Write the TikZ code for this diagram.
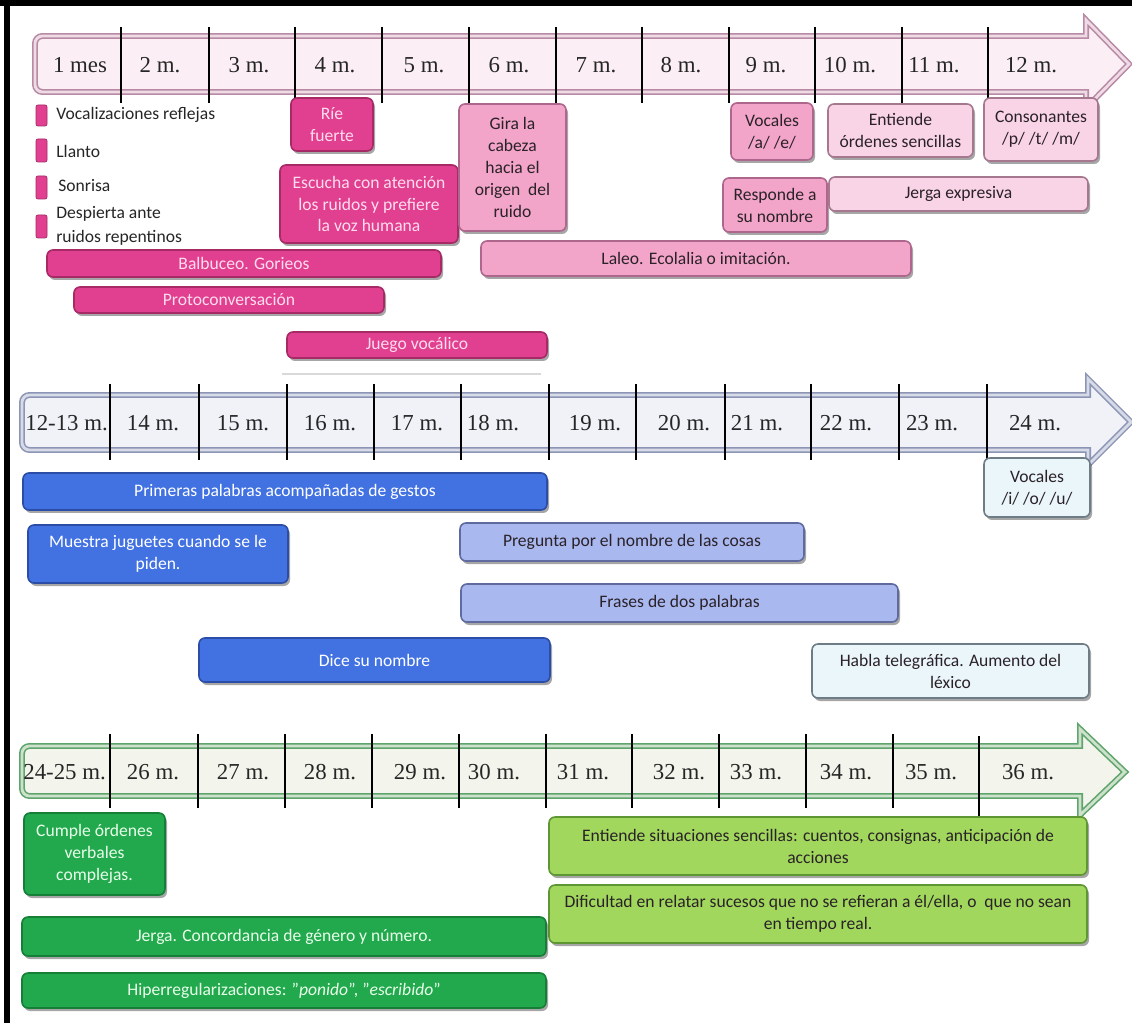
\documentclass[tikz,border=0pt]{standalone}
\usepackage{fontspec}
\setmainfont{Carlito}
\newfontfamily\monthfont{Liberation Serif}
\usetikzlibrary{shadows}

% palette
\definecolor{pinkbarF}{HTML}{FBEFF5}
\definecolor{pinkbarD}{HTML}{B98AA5}
\definecolor{hotF}{HTML}{E13F8F}
\definecolor{hotD}{HTML}{A52A66}
\definecolor{hotT}{HTML}{FFDDEE}
\definecolor{midF}{HTML}{F3A5C9}
\definecolor{midD}{HTML}{AE678C}
\definecolor{lightF}{HTML}{F9D4E6}
\definecolor{lightD}{HTML}{A67890}
\definecolor{bluebarF}{HTML}{F0F2F8}
\definecolor{bluebarD}{HTML}{8C95B5}
\definecolor{dblueF}{HTML}{4272E2}
\definecolor{dblueD}{HTML}{2B4DA6}
\definecolor{periF}{HTML}{AAB8F0}
\definecolor{periD}{HTML}{5F6B9F}
\definecolor{paleF}{HTML}{EAF6FA}
\definecolor{paleD}{HTML}{6E7C86}
\definecolor{greenbarF}{HTML}{F3F5EC}
\definecolor{greenbarD}{HTML}{5DA56B}
\definecolor{dgreenF}{HTML}{22A84D}
\definecolor{dgreenD}{HTML}{157F38}
\definecolor{dgreenT}{HTML}{E8FFEA}
\definecolor{lgreenF}{HTML}{A0D75C}
\definecolor{lgreenD}{HTML}{5E9634}
\definecolor{darktext}{HTML}{2A2228}

\tikzset{
  box/.style={rounded corners=0.12cm, line width=0.9pt, inner sep=0pt, outer sep=0pt,
    align=center, font=\fontsize{10}{12.5}\selectfont,
    drop shadow={shadow xshift=0.04cm, shadow yshift=-0.06cm, opacity=0.35, fill=black}},
  hot/.style={box, fill=hotF, draw=hotD, text=hotT},
  mid/.style={box, fill=midF, draw=midD, text=darktext},
  light/.style={box, fill=lightF, draw=lightD, text=darktext},
  dblue/.style={box, fill=dblueF, draw=dblueD, text=white},
  peri/.style={box, fill=periF, draw=periD, text=darktext},
  pale/.style={box, fill=paleF, draw=paleD, text=darktext},
  dgreen/.style={box, fill=dgreenF, draw=dgreenD, text=dgreenT},
  lgreen/.style={box, fill=lgreenF, draw=lgreenD, text=darktext},
  bar/.style={line width=0.9pt, double distance=1.6pt},
  tick/.style={line width=1.1pt, black},
  month/.style={font=\monthfont\fontsize{13}{13}\selectfont, text=black!85, inner sep=0pt},
  legend/.style={font=\fontsize{10}{13.5}\selectfont, anchor=west, inner sep=0pt, text=black!85, align=left},
  legendmark/.style={fill=hotF, draw=hotD, line width=0.4pt, rounded corners=0.04cm}
}

% box from (x1,y1) to (x2,y2) in pixel units
\newcommand\tlbox[7]{\node[#2, minimum width={(#5-#3)*0.02cm}, minimum height={(#6-#4)*0.02cm}] (#1) at ({(#3+#5)/2},{(#4+#6)/2}) {#7};}

\begin{document}
\begin{tikzpicture}[x=0.02cm, y=-0.02cm]
\useasboundingbox (0,0) rectangle (1132,1023);
\fill[white] (0,0) rectangle (1132,1023);

% frame edges
\fill[black] (0,0) rectangle (1132,6);
\fill[black] (4,0) rectangle (10,1023);

% ---------------- first year ----------------
\draw[bar, draw=pinkbarD, double=pinkbarF!80!pinkbarD, fill=pinkbarF]
  (1086,36) -- (1086,20) -- (1129,64) -- (1086,108) -- (1086,92)
  [rounded corners=0.15cm] -- (35,92) -- (35,36) [sharp corners] -- cycle;

\foreach \x/\t [count=\i] in {80/1 mes,160/2 m.,249/3 m.,335/4 m.,424/5 m.,509/6 m.,596/7 m.,681/8 m.,766/9 m.,850/10 m.,934/11 m.,1031/12 m.}
  \node[month] (ma\i) at (\x,65) {\t};
\foreach \x in {121,209,295,382,469,556,642,729,815,902,988}
  \draw[tick] (\x,27) -- (\x,103);

% legend
\foreach \ya/\yb [count=\i] in {105/126,139/162,176/199,215/238}
  \draw[legendmark] (36,\ya) rectangle (47,\yb);
\node[legend] (l1) at (56,115) {Vocalizaciones reflejas};
\node[legend] (l2) at (56,151) {Llanto};
\node[legend] (l3) at (58,186) {Sonrisa};
\node[legend] (l4) at (56,226) {Despierta ante\\ruidos repentinos};

\tlbox{rie}{hot}{291}{98}{373}{151}{Ríe\\fuerte}
\tlbox{escucha}{hot}{280}{165}{458}{243}{Escucha con atención\\los ruidos y prefiere\\la voz humana}
\tlbox{gira}{mid}{459}{104}{566}{231}{Gira la\\cabeza\\hacia el\\origen\ \ del\\ruido}
\tlbox{vocae}{mid}{731}{103}{813}{160}{Vocales\\/a/ /e/}
\tlbox{entiende}{light}{828}{104}{973}{157}{Entiende\\órdenes sencillas}
\tlbox{conson}{light}{984}{98}{1098}{161}{Consonantes\\/p/ /t/ /m/}
\tlbox{responde}{mid}{723}{178}{827}{232}{Responde a\\su nombre}
\tlbox{jergaexp}{light}{829}{177}{1088}{211}{Jerga expresiva}
\tlbox{laleo}{mid}{481}{241}{911}{276}{Laleo. Ecolalia o imitación.}
\tlbox{balbuceo}{hot}{47}{250}{441}{277}{Balbuceo. Gorieos}
\tlbox{proto}{hot}{74}{287}{384}{313}{Protoconversación}
\tlbox{juego}{hot}{287}{332}{547}{358}{Juego vocálico}
\draw[black!15, line width=0.6pt] (282,374) -- (541,374);

% ---------------- second year, first half ----------------
\draw[bar, draw=bluebarD, double=bluebarF!75!bluebarD, fill=bluebarF]
  (1088,395) -- (1088,379) -- (1131,422) -- (1088,465) -- (1088,450)
  [rounded corners=0.15cm] -- (22,450) -- (22,395) [sharp corners] -- cycle;

\node[month, anchor=west] (mb1) at (25,423) {12-13 m.};
\foreach \x/\t [count=\i from 2] in {153/14 m.,243/15 m.,330/16 m.,417/17 m.,493/18 m.,595/19 m.,684/20 m.,757/21 m.,846/22 m.,932/23 m.,1035/24 m.}
  \node[month] (mb\i) at (\x,423) {\t};
\foreach \x in {110,199,287,374,461,549,636,725,811,899,987}
  \draw[tick] (\x,384) -- (\x,460);

\tlbox{primeras}{dblue}{23}{473}{547}{510}{Primeras palabras acompañadas de gestos}
\tlbox{vocaiou}{pale}{984}{458}{1090}{517}{Vocales\\/i/ /o/ /u/}
\tlbox{muestra}{dblue}{28}{525}{288}{583}{Muestra juguetes cuando se le\\piden.}
\tlbox{pregunta}{peri}{460}{523}{804}{561}{Pregunta por el nombre de las cosas}
\tlbox{frases}{peri}{461}{584}{898}{622}{Frases de dos palabras}
\tlbox{dice}{dblue}{199}{638}{550}{682}{Dice su nombre}
\tlbox{habla}{pale}{812}{644}{1089}{698}{Habla telegráfica. Aumento del\\léxico}

% ---------------- second year, second half ----------------
\draw[bar, draw=greenbarD, double=greenbarF!75!greenbarD, fill=greenbarF]
  (1080,746) -- (1080,729) -- (1125,772) -- (1080,815) -- (1080,796)
  [rounded corners=0.15cm] -- (22,796) -- (22,746) [sharp corners] -- cycle;

\node[month, anchor=west] (mc1) at (23,772) {24-25 m.};
\foreach \x/\t [count=\i from 2] in {153/26 m.,243/27 m.,330/28 m.,420/29 m.,494/30 m.,583/31 m.,679/32 m.,756/33 m.,846/34 m.,931/35 m.,1028/36 m.}
  \node[month] (mc\i) at (\x,772) {\t};
\foreach \x in {110,198,285,372,459,546,632,719,806,893}
  \draw[tick] (\x,734) -- (\x,808);
\draw[tick] (979,736) -- (979,816);

\tlbox{cumple}{dgreen}{24}{813}{165}{895}{Cumple órdenes\\verbales\\complejas.}
\tlbox{entsit}{lgreen}{549}{817}{1087}{875}{Entiende situaciones sencillas: cuentos, consignas, anticipación de\\acciones}
\tlbox{dificultad}{lgreen}{549}{885}{1087}{943}{Dificultad en relatar sucesos que no se refieran a él/ella, o \ que no sean\\en tiempo real.}
\tlbox{jergacon}{dgreen}{22}{917}{546}{956}{Jerga. Concordancia de género y número.}
\tlbox{hiper}{dgreen}{22}{973}{546}{1008}{Hiperregularizaciones: "\textit{ponido}", "\textit{escribido}"}
\end{tikzpicture}
\end{document}
